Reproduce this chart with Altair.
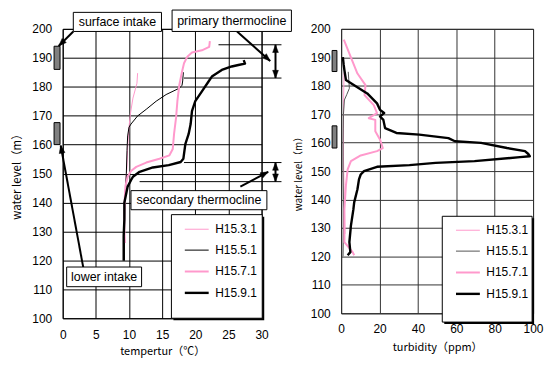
import math
import altair as alt
import pandas as pd

SERIES = ["H15.3.1", "H15.5.1", "H15.7.1", "H15.9.1"]

# ---------------- left panel: water temperature (deg C) vs water level (m)
t31_level = [184.7, 181.2, 176.1, 170.5, 166.0, 159.1, 152.3, 147.0, 142.0, 135.0, 127.9]
t31_temp = [11.3, 11.2, 10.6, 10.2, 10.0, 9.8, 9.7, 9.5, 9.3, 9.3, 9.3]

t51_level = [185.0, 182.0, 180.5, 179.5, 177.3, 175.0, 172.2, 169.9, 167.1, 166.0, 163.0,
             158.0, 150.0, 145.0, 140.0, 130.0, 120.0]
t51_temp = [18.2, 18.1, 18.0, 17.6, 15.6, 14.1, 12.6, 11.3, 10.3, 10.0, 9.8,
            9.7, 9.6, 9.5, 9.4, 9.3, 9.3]

t71_level = [195.8, 193.8, 192.6, 191.8, 190.4, 188.1, 185.2, 180.7, 175.0, 169.3, 163.7,
             158.5, 156.3, 155.1, 153.8, 152.3, 150.9, 148.9, 146.0, 142.0, 136.0, 130.0, 126.0]
t71_temp = [22.2, 22.1, 21.0, 19.5, 18.8, 18.3, 18.0, 17.6, 17.3, 17.1, 16.8,
            16.6, 16.1, 14.6, 12.6, 11.1, 10.3, 9.8, 9.5, 9.4, 9.3, 9.3, 9.4]

t91_level = [189.2, 188.0, 187.5, 187.0, 185.8, 183.5, 181.8, 178.4, 175.0, 171.6, 167.1,
             163.7, 160.2, 155.1, 154.0, 152.9, 152.1, 150.6, 148.9, 147.7, 145.5, 139.9,
             134.0, 128.4, 119.9]
t91_temp = [27.3, 27.5, 26.5, 25.5, 24.0, 22.5, 22.0, 21.0, 20.0, 19.5, 19.3,
            19.0, 18.5, 18.2, 17.8, 16.0, 13.6, 11.6, 10.6, 10.3, 9.8, 9.3,
            9.3, 9.2, 9.2]

# ---------------- right panel: turbidity (ppm) vs water level (m)
b31_level = [184.7, 175.0, 165.0, 155.0, 145.0, 135.0, 127.9]
b31_turb = [1.5, 1.3, 1.2, 1.2, 1.5, 1.8, 2.0]

b51_level = [184.9, 182.0, 179.1, 177.0, 175.0, 170.0, 160.0, 150.0, 140.0, 130.0, 120.0]
b51_turb = [3.7, 4.0, 4.3, 3.0, 1.7, 1.2, 1.0, 1.0, 1.2, 1.2, 1.0]

b71_level = [196.2, 191.3, 184.3, 180.2, 176.7, 173.2, 170.4, 168.6, 168.0, 164.0, 161.0,
             158.1, 157.0, 155.5, 153.5, 150.6, 145.0, 136.6, 125.0, 121.5, 120.4]
b71_turb = [1.4, 4.3, 8.5, 12.7, 12.2, 17.0, 18.7, 14.4, 17.8, 17.8, 20.3,
            21.7, 18.7, 10.2, 5.1, 3.4, 2.5, 1.7, 1.7, 6.0, 6.8]

b91_level = [190.1, 187.5, 185.5, 182.0, 180.2, 177.3, 173.8, 171.5, 170.4, 169.2, 168.0,
             165.1, 163.4, 162.8, 161.6, 160.5, 159.9, 158.1, 157.0, 156.0, 155.2, 154.9,
             153.5, 152.9, 152.1, 151.5, 150.0, 148.8, 147.1, 143.6, 139.0, 136.6, 130.8,
             125.0, 121.5, 120.4]
b91_turb = [0.9, 1.3, 1.7, 2.5, 6.8, 13.6, 18.7, 20.3, 22.4, 20.3, 22.0,
            22.9, 28.8, 40.7, 55.9, 59.3, 72.9, 86.4, 95.8, 97.5, 98.3, 93.2,
            69.5, 49.2, 35.6, 18.7, 11.9, 10.2, 9.3, 8.5, 6.8, 6.4, 5.1,
            4.3, 4.8, 3.4]

# ---------------- annotations (left panel data coordinates)
box_label = ["surface intake", "primary thermocline", "secondary thermocline", "lower intake"]
box_x1 = [1.6, 16.5, 10.3, 0.6]
box_x2 = [14.9, 34.5, 30.8, 11.9]
box_y1 = [199.1, 199.1, 137.5, 110.9]
box_y2 = [205.7, 206.5, 144.1, 117.7]

guide_x1 = [23.5, 18.3, 18.3, 11.6]
guide_x2 = [33.0, 33.0, 33.0, 33.0]
guide_y = [194.5, 183.0, 153.8, 147.2]

arrow_x1 = [1.6, 3.1, 26.3, 26.8, 32.1, 32.1]
arrow_y1 = [199.1, 117.6, 199.1, 145.5, 194.5, 153.8]
arrow_x2 = [-0.6, -0.3, 31.3, 31.0, 32.1, 32.1]
arrow_y2 = [194.1, 159.7, 188.9, 150.6, 183.0, 147.2]
arrow_both = [False, False, False, False, True, True]

intake_left_x = [-1.3, -0.4]
intake_right_x = [-4.7, -2.2]
intake_left_y = [[186.0, 194.0], [160.0, 167.6]]
intake_right_y = [[185.0, 192.4], [158.1, 165.9]]

legend_box_left = [16.4, 30.1, 100.0, 135.8]
legend_box_right = [52.7, 99.5, 96.9, 134.1]

# ---------------- styling
WL, HL = 200, 291
WR, HR = 193, 286
LEFT_COLORS = ["#ff99cc", "#000000", "#ff99cc", "#000000"]
RIGHT_COLORS = ["#ff99cc", "#555555", "#ff99cc", "#000000"]
WIDTHS = [1.0, 1.0, 2.0, 2.4]
LAB_FONT = "Liberation Sans"
TIT_FONT = "Noto Sans CJK JP"


def profile(levels, values, name):
    return pd.DataFrame({"level": levels, "v": values, "series": name,
                         "idx": list(range(len(levels)))})


left_df = pd.concat([profile(t31_level, t31_temp, SERIES[0]),
                     profile(t51_level, t51_temp, SERIES[1]),
                     profile(t71_level, t71_temp, SERIES[2]),
                     profile(t91_level, t91_temp, SERIES[3])])
right_df = pd.concat([profile(b31_level, b31_turb, SERIES[0]),
                      profile(b51_level, b51_turb, SERIES[1]),
                      profile(b71_level, b71_turb, SERIES[2]),
                      profile(b91_level, b91_turb, SERIES[3])])


def axes(xdom, xstep, xtitle, xtitle_size, xtitle_pad, xlab_pad, ytitle_size, ytitle_pad, grid_color):
    xa = alt.Axis(values=list(range(xdom[0], xdom[1] + 1, xstep)), grid=True, gridColor=grid_color,
                  gridOpacity=1, gridWidth=1, ticks=False, domain=False, labelFont=LAB_FONT,
                  labelFontSize=12, labelColor="black", labelPadding=xlab_pad, title=xtitle,
                  titleFont=TIT_FONT, titleFontSize=xtitle_size, titleFontWeight="normal",
                  titleColor="black", titlePadding=xtitle_pad, labelFlush=False)
    ya = alt.Axis(values=list(range(100, 201, 10)), grid=True, gridColor=grid_color,
                  gridOpacity=1, gridWidth=1, ticks=False, domain=False, labelFont=LAB_FONT,
                  labelFontSize=12, labelColor="black", labelPadding=11, title="water level（m）",
                  titleFont=TIT_FONT, titleFontSize=ytitle_size, titleFontWeight="normal",
                  titleColor="black", titlePadding=ytitle_pad, labelFlush=False)
    xs = alt.Scale(domain=list(xdom), nice=False, zero=False)
    ys = alt.Scale(domain=[100, 200], nice=False, zero=False)
    return xa, ya, xs, ys


def panel(df, colors, xdom, xstep, xtitle, xtitle_size, xtitle_pad, xlab_pad, ytitle_size,
          ytitle_pad, grid_color, legxy, intake_x, intake_y, lbox, with_notes, w, h):
    xa, ya, xs, ys = axes(xdom, xstep, xtitle, xtitle_size, xtitle_pad, xlab_pad,
                          ytitle_size, ytitle_pad, grid_color)

    def X(f):
        return alt.X(f, type="quantitative", scale=xs, axis=xa)

    def Y(f):
        return alt.Y(f, type="quantitative", scale=ys, axis=ya)

    leg = alt.Legend(title=None, orient="none", legendX=legxy[0], legendY=legxy[1], padding=0,
                     symbolType="stroke", symbolSize=576, rowPadding=2, labelOffset=5,
                     labelFont=LAB_FONT, labelFontSize=12, labelColor="black")

    lines = alt.Chart(df).mark_line(strokeJoin="round", clip=False).encode(
        x=X("v"), y=Y("level"),
        color=alt.Color("series:N", scale=alt.Scale(domain=SERIES, range=colors), legend=leg),
        strokeWidth=alt.StrokeWidth("series:N",
                                    scale=alt.Scale(type="ordinal", domain=SERIES, range=WIDTHS),
                                    legend=leg),
        detail="series:N",
        order=alt.Order("idx:Q"),
    )

    intake_df = pd.DataFrame({"x1": [intake_x[0]] * 2, "x2": [intake_x[1]] * 2,
                              "y1": [p[0] for p in intake_y], "y2": [p[1] for p in intake_y]})
    intakes = alt.Chart(intake_df).mark_rect(fill="#808080", stroke="black", strokeWidth=1).encode(
        x=X("x1"), x2="x2", y=Y("y1"), y2="y2")

    lb = pd.DataFrame({"x1": [lbox[0]], "x2": [lbox[1]], "y1": [lbox[2]], "y2": [lbox[3]]})
    sx = (xdom[1] - xdom[0]) / w
    sy = 100.0 / h
    lbs = pd.DataFrame({"x1": [lbox[0] + 2 * sx], "x2": [lbox[1] + 2 * sx],
                        "y1": [lbox[2] - 2 * sy], "y2": [lbox[3] - 2 * sy]})
    shadow = alt.Chart(lbs).mark_rect(fill="black").encode(x=X("x1"), x2="x2", y=Y("y1"), y2="y2")
    lbox_m = alt.Chart(lb).mark_rect(fill="white", stroke="black", strokeWidth=1).encode(
        x=X("x1"), x2="x2", y=Y("y1"), y2="y2")

    layers = [lines, intakes]

    if with_notes:
        gdf = pd.DataFrame({"x1": guide_x1, "x2": guide_x2, "y": guide_y})
        guides = alt.Chart(gdf).mark_rule(color="black", strokeWidth=1).encode(
            x=X("x1"), x2="x2", y=Y("y"))
        adf = pd.DataFrame({"x1": arrow_x1, "x2": arrow_x2, "y1": arrow_y1, "y2": arrow_y2})
        shafts = alt.Chart(adf).mark_rule(color="black", strokeWidth=2).encode(
            x=X("x1"), x2="x2", y=Y("y1"), y2="y2")
        px = w / (xdom[1] - xdom[0])
        py = h / 100.0
        heads = []
        for a, b, c, d, both in zip(arrow_x1, arrow_y1, arrow_x2, arrow_y2, arrow_both):
            dx = (c - a) * px
            dy = -(d - b) * py
            ang = math.degrees(math.atan2(dx, -dy)) % 360
            heads.append({"x": c, "y": d, "ang": ang})
            if both:
                heads.append({"x": a, "y": b, "ang": (ang + 180) % 360})
        hdf = pd.DataFrame(heads)
        head_m = alt.Chart(hdf).mark_point(shape="M0,0L-0.75,2L0.75,2Z", filled=True, fill="black",
                                           stroke="black", strokeWidth=0.5, opacity=1,
                                           size=60).encode(
            x=X("x"), y=Y("y"), angle=alt.Angle("ang:Q", scale=None))
        bdf = pd.DataFrame({"x1": box_x1, "x2": box_x2, "y1": box_y1, "y2": box_y2,
                            "label": box_label})
        bdf["cx"] = (bdf["x1"] + bdf["x2"]) / 2
        bdf["cy"] = (bdf["y1"] + bdf["y2"]) / 2
        boxes = alt.Chart(bdf).mark_rect(fill="white", stroke="black", strokeWidth=1).encode(
            x=X("x1"), x2="x2", y=Y("y1"), y2="y2")
        texts = alt.Chart(bdf).mark_text(font=LAB_FONT, fontSize=12.5, color="black",
                                         align="center", baseline="middle").encode(
            x=X("cx"), y=Y("cy"), text="label:N")
        layers += [guides, shafts, head_m, boxes, texts]

    layers += [shadow, lbox_m]
    return alt.layer(*layers).properties(width=w, height=h)


left = panel(left_df, LEFT_COLORS, (0, 30), 5, "tempertur（℃）", 11, 5, 11, 11.5, 9,
             "black", (121.3, 189.0), intake_left_x, intake_left_y, legend_box_left, True, WL, HL)
right = panel(right_df, RIGHT_COLORS, (0, 100), 20, "turbidity（ppm）", 11, 7, 10, 10, 7,
              "#333333", (114.0, 190), intake_right_x, intake_right_y, legend_box_right, False, WR, HR)

chart = alt.hconcat(left, right, spacing=0).resolve_scale(
    color="independent", strokeWidth="independent", x="independent", y="independent"
).resolve_legend(color="independent", strokeWidth="independent").properties(
    padding={"left": 3, "top": 0, "right": 0, "bottom": 0}, background="white"
).configure_view(stroke="black", strokeWidth=1)

chart.save("out.html", embed_options={"renderer": "svg", "actions": False})
